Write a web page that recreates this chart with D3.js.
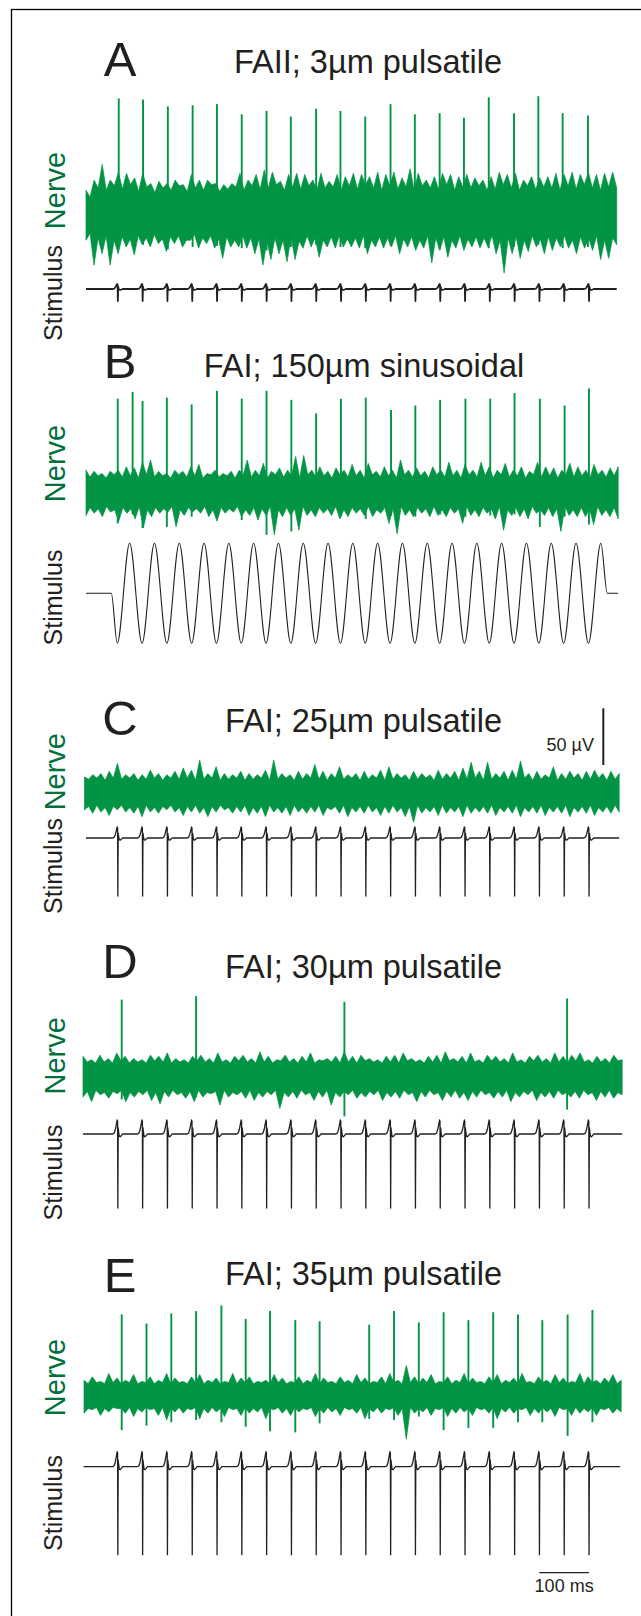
<!DOCTYPE html>
<html><head><meta charset="utf-8">
<script src="https://cdn.jsdelivr.net/npm/d3@7"></script>
<style>
body{margin:0;background:#fff}
svg{display:block}
text{font-family:"Liberation Sans",Arial,Helvetica,sans-serif;}
</style>
</head><body>
<svg id="c" width="641" height="1616"></svg>
<script>
// ---------------- DATA ----------------
const panelLetters = ["A","B","C","D","E"];
const panelTitles = ["FAII; 3µm pulsatile","FAI; 150µm sinusoidal","FAI; 25µm pulsatile","FAI; 30µm pulsatile","FAI; 35µm pulsatile"];
const traceLabels = ["Nerve","Stimulus"];
const scaleBarLabels = ["50 µV","100 ms"];
const scaleBarValues = [50, 100]; // µV, ms
const scaleBarTimeStart = 914;    // ms

// time span of each recording (ms)
const nerveSpans = [[0,1070],[0,1073],[-3,1075],[-6,1081],[-4,1079]];
const stimSpans  = [[0,1070],[0,1073],[0,1075],[-6,1081],[-5,1077]];

// nerve noise envelope (µV), upper and lower edges
const noiseUpA = [20,14,29,22,43,20,29,24,36,21,35,25,31,19,35,23,26,18,28,22,26,20,29,24,25,19,34,22,29,20,29,25,26,19,25,21,26,23,35,20,29,24,34,21,38,22,36,25,28,20,34,23,35,21,34,24,29,20,35,22,28,23,34,20,32,24,35,21,34,25,32,22,36,20,34,24,36,21,31,23,39,20,35,24,29,22,32,21,35,25,34,20,32,23,34,22,31,24,29,20,32,21,36,25,34,22,35,20,29,24,32,21,31,23,32,22,35,20,34,24,36,21,34,25,36,22,34,20,35,23,36,22];
const noiseLoA = [-24,-18,-46,-22,-36,-20,-46,-24,-36,-21,-30,-23,-37,-20,-28,-22,-30,-19,-27,-23,-34,-21,-27,-20,-30,-24,-24,-19,-31,-22,-27,-20,-31,-23,-40,-21,-30,-24,-30,-20,-31,-22,-36,-23,-46,-25,-41,-22,-36,-24,-43,-21,-41,-25,-31,-20,-30,-22,-39,-24,-30,-21,-31,-20,-30,-23,-30,-22,-31,-20,-36,-24,-30,-21,-31,-22,-30,-20,-36,-23,-30,-21,-33,-24,-31,-20,-44,-22,-33,-21,-39,-24,-31,-20,-33,-23,-30,-21,-31,-22,-30,-20,-36,-24,-53,-22,-36,-21,-40,-24,-34,-20,-30,-23,-36,-21,-33,-22,-30,-20,-31,-24,-36,-21,-31,-22,-33,-20,-41,-24,-40,-22,-28];
const noiseUpB = [19,13,18,14,16,12,18,15,19,13,22,14,21,12,26,15,28,13,18,14,16,12,19,15,18,13,22,14,24,12,16,15,19,13,16,14,18,12,19,15,28,13,19,14,25,12,18,15,21,13,19,14,31,12,32,15,19,13,22,14,18,12,21,15,19,13,24,14,19,12,25,15,18,13,22,14,19,12,28,15,19,13,21,14,18,12,22,15,19,13,26,14,19,12,24,15,19,13,26,14,22,12,19,15,25,13,19,14,22,12,18,15,26,13,22,14,21,12,19,15,25,13,22,14,19,12,24,15,19,13,21,14,22];
const noiseLoB = [-21,-14,-19,-15,-22,-13,-18,-16,-26,-14,-19,-15,-24,-13,-32,-16,-22,-14,-19,-15,-18,-13,-31,-16,-21,-14,-18,-15,-19,-13,-22,-16,-26,-14,-19,-15,-18,-13,-22,-16,-21,-14,-25,-15,-21,-13,-38,-16,-22,-14,-21,-15,-34,-13,-21,-16,-22,-14,-19,-15,-21,-13,-24,-16,-22,-14,-19,-15,-21,-13,-22,-16,-19,-14,-28,-15,-37,-13,-21,-16,-22,-14,-19,-15,-22,-13,-21,-16,-22,-14,-19,-15,-28,-13,-21,-16,-22,-14,-19,-15,-24,-13,-34,-16,-21,-14,-22,-15,-24,-13,-19,-16,-21,-14,-22,-15,-35,-13,-21,-16,-22,-14,-22,-15,-29,-13,-21,-16,-22,-14,-24];
const noiseUpC = [13,11,15,12,16,10,18,12,25,11,15,12,16,10,15,11,19,12,16,10,15,12,18,11,21,12,19,10,28,11,16,12,22,10,16,11,15,12,18,10,16,11,15,12,19,10,28,11,16,12,15,10,18,11,16,12,24,11,18,10,16,12,22,11,15,12,16,10,18,11,15,12,19,10,22,11,16,12,15,10,18,11,16,12,15,10,19,11,16,12,18,10,21,11,26,12,18,10,26,11,16,12,18,10,19,11,27,12,16,10,18,11,15,12,22,10,16,11,18,12,16,10,18,11,19,12,16,10,18,11,16];
const noiseLoC = [-16,-13,-19,-12,-18,-14,-21,-13,-16,-12,-18,-14,-19,-13,-22,-12,-18,-14,-19,-13,-16,-12,-18,-14,-21,-13,-18,-12,-19,-14,-22,-13,-18,-12,-16,-14,-19,-13,-18,-12,-21,-14,-19,-13,-22,-12,-18,-14,-19,-13,-21,-12,-18,-14,-19,-13,-18,-12,-21,-14,-16,-13,-19,-12,-22,-14,-18,-13,-19,-12,-18,-14,-21,-13,-19,-12,-18,-14,-22,-13,-27,-12,-19,-14,-18,-13,-21,-12,-19,-14,-18,-13,-22,-12,-19,-14,-18,-13,-19,-12,-21,-14,-18,-13,-19,-12,-22,-14,-18,-13,-19,-12,-21,-14,-18,-13,-19,-12,-22,-14,-18,-13,-19,-12,-21,-14,-18,-13,-19,-12,-18];
const noiseUpD = [18,13,15,12,19,13,16,12,21,14,18,12,16,13,15,12,19,14,18,13,21,12,16,13,15,12,18,14,19,13,16,12,21,13,15,12,18,14,19,13,16,12,22,13,18,12,15,14,19,13,16,12,18,13,21,12,15,14,16,13,18,12,22,13,18,12,19,14,16,13,15,12,18,13,19,12,21,14,16,13,15,12,18,13,19,12,22,14,16,13,18,12,21,13,15,12,19,14,18,13,16,12,21,13,15,12,18,14,19,13,16,12,21,13,18,12,19,14,21,13,15,12,18,13,16,12,19,14,15];
const noiseLoD = [-18,-13,-22,-12,-16,-14,-19,-13,-15,-12,-22,-14,-18,-13,-16,-12,-21,-14,-24,-13,-18,-12,-16,-14,-19,-13,-22,-12,-18,-14,-15,-13,-25,-12,-18,-14,-16,-13,-19,-12,-21,-14,-18,-13,-16,-12,-28,-14,-18,-13,-19,-12,-16,-14,-21,-13,-18,-12,-25,-14,-18,-13,-16,-12,-19,-14,-18,-13,-16,-12,-21,-14,-18,-13,-19,-12,-16,-14,-22,-13,-18,-12,-16,-14,-21,-13,-18,-12,-19,-14,-21,-13,-18,-12,-16,-14,-19,-13,-18,-12,-22,-14,-18,-13,-16,-12,-21,-14,-18,-13,-19,-12,-16,-14,-18,-13,-19,-12,-16,-14,-21,-13,-18,-12,-19,-14,-16];
const noiseUpE = [13,10,16,11,12,10,19,11,15,10,13,11,18,10,12,11,16,10,13,11,19,10,15,11,12,10,16,11,18,10,13,11,15,10,12,11,19,10,15,11,16,10,12,11,13,10,18,11,15,10,12,11,16,10,13,11,19,10,15,11,12,10,16,11,13,10,18,11,15,10,12,11,16,10,19,11,13,10,26,11,16,10,15,11,18,10,12,11,16,10,13,11,19,10,15,11,12,10,16,11,18,10,13,11,15,10,19,11,12,10,16,11,13,10,18,11,15,10,12,11,19,10,16,11,13,10,15,11,18,10,13];
const noiseLoE = [-16,-12,-13,-11,-18,-12,-15,-11,-12,-12,-16,-11,-19,-12,-15,-11,-13,-12,-18,-11,-22,-12,-15,-11,-16,-12,-13,-11,-21,-12,-16,-11,-15,-12,-19,-11,-13,-12,-18,-11,-16,-12,-15,-11,-21,-12,-13,-11,-16,-12,-18,-11,-15,-12,-13,-11,-19,-12,-16,-11,-15,-12,-18,-11,-13,-12,-16,-11,-21,-12,-15,-11,-16,-12,-13,-11,-18,-12,-39,-11,-16,-12,-15,-11,-18,-12,-13,-11,-19,-12,-16,-11,-15,-12,-18,-11,-13,-12,-16,-11,-21,-12,-15,-11,-16,-12,-13,-11,-18,-12,-16,-11,-15,-12,-19,-11,-13,-12,-18,-11,-16,-12,-15,-11,-18,-12,-13,-11,-16,-12,-15];

// action potentials: time (ms), peak (µV), trough (µV)
const spikeTimesA = [66,115,165,215,264,314,364,413,464,513,563,614,663,713,762,812,863,912,961,1012];
const spikeTopsA  = [101,100,94,95,96,87,90,85,92,90,85,96,87,88,84,102,88,103,88,86];
const spikeDipsA  = [-30,-28,-32,-30,-29,-31,-33,-30,-28,-30,-31,-29,-30,-32,-29,-31,-30,-28,-31,-30];
const spikeTimesB = [64,94,114,163,213,264,314,364,414,464,514,564,615,664,714,765,815,864,915,965,1014];
const spikeTopsB  = [82,88,80,83,77,89,82,89,81,69,82,83,72,76,81,82,82,87,82,76,91];
const spikeDipsB  = [-28,-20,-32,-31,-22,-20,-25,-38,-35,-20,-22,-24,-21,-22,-20,-22,-21,-20,-31,-22,-29];
const spikeTimesC = [];
const spikeTopsC  = [];
const spikeDipsC  = [];
const spikeTimesD = [72,222,521,970];
const spikeTopsD  = [68,71,66,69];
const spikeDipsD  = [-20,-18,-35,-29];
const spikeTimesE = [72,122,172,222,273,322,371,422,471,571,621,671,721,771,821,871,920,971,1021];
const spikeTopsE  = [71,63,72,74,79,67,74,66,65,62,74,64,73,66,73,71,66,71,75];
const spikeDipsE  = [-31,-27,-24,-22,-24,-28,-32,-33,-25,-21,-22,-19,-31,-29,-29,-24,-24,-36,-24];

// mechanical stimulus
const pulseTimes = [64,114,164,214,264,314,364,414,464,514,564,614,664,714,764,814,864,914,964,1014];
const pulseBump   = [5, 0, 11, 14, 15];      // overshoot before each pulse
const pulseTrough = [-12, 0, -58, -74, -88]; // pulse amplitude
const pulseShapeT      = [-10,-7,-5,-3,-1.2,-0.3,0.2,0.9,1.8,3,5,7.5,10];
const pulseShapeBump   = [0,0.08,0.3,0.65,1,0.9,0,0.45,0.15,-0.15,-0.2,-0.1,0];
const pulseShapeTrough = [0,0,0,0,0,0,1,0,0,0,0,0,0];
const sineTimes  = [0,51,63,88,113,138,163,188,213,238,263,288,313,338,363,388,413,438,463,488,513,538,563,588,613,638,663,688,713,738,763,788,813,838,863,888,913,938,963,988,1013,1038,1051,1073];
const sineValues = [0,0,-50,50,-50,50,-50,50,-50,50,-50,50,-50,50,-50,50,-50,50,-50,50,-50,50,-50,50,-50,50,-50,50,-50,50,-50,50,-50,50,-50,50,-50,50,-50,50,-50,50,0,0];

// ---------------- LAYOUT ----------------
const green = "#009444", labelGreen = "#00703c", ink = "#231f20";
const layout = [
 {letterY:76,   titleX:368,   titleY:73,   nerveY:213,    stimY:289,    nerveLabY:190.5,  stimLabY:293},
 {letterY:378,  titleX:364,   titleY:377,  nerveY:491.7,  stimY:593.3,  nerveLabY:463.5,  stimLabY:597.5},
 {letterY:735,  titleX:363.5, titleY:732,  nerveY:791.7,  stimY:838,    nerveLabY:771.7,  stimLabY:866},
 {letterY:978,  titleX:363.5, titleY:978,  nerveY:1076.7, stimY:1134,   nerveLabY:1055.8, stimLabY:1172.5},
 {letterY:1291.7,titleX:363.5,titleY:1285, nerveY:1395,   stimY:1466.7, nerveLabY:1377.5, stimLabY:1503}
];
const noiseUp = [noiseUpA,noiseUpB,noiseUpC,noiseUpD,noiseUpE];
const noiseLo = [noiseLoA,noiseLoB,noiseLoC,noiseLoD,noiseLoE];
const spikes = [[spikeTimesA,spikeTopsA,spikeDipsA],[spikeTimesB,spikeTopsB,spikeDipsB],[spikeTimesC,spikeTopsC,spikeDipsC],[spikeTimesD,spikeTopsD,spikeDipsD],[spikeTimesE,spikeTopsE,spikeDipsE]];

const svg = d3.select("#c");
svg.append("rect").attr("width",641).attr("height",1616).attr("fill","#fff");
svg.append("rect").attr("x",11.5).attr("y",9.5).attr("width",700).attr("height",1700)
  .attr("fill","none").attr("stroke","#000").attr("stroke-width",1.3);

const x  = d3.scaleLinear().domain([0,1073]).range([86,618.2]);
const yN = d3.scaleLinear().domain([-100,100]).range([113.4,-113.4]); // µV
const yS = d3.scaleLinear().domain([-100,100]).range([100,-100]);     // stimulus units

const lineN = d3.line().x(d=>x(d[0])).y(d=>yN(d[1]));
const lineS = d3.line().x(d=>x(d[0])).y(d=>yS(d[1]));
const lineSine = d3.line().x(d=>x(d[0])).y(d=>yS(d[1])).curve(d3.curveMonotoneX);

function spread(arr, span){
  const n = arr.length;
  return arr.map((v,i)=>[span[0] + i*(span[1]-span[0])/(n-1), v]);
}

layout.forEach((L,p)=>{
  const g = svg.append("g");
  // letter and title
  g.append("text").attr("x",120).attr("y",L.letterY).attr("text-anchor","middle")
    .attr("font-size",49).attr("fill",ink).text(panelLetters[p]);
  g.append("text").attr("x",L.titleX).attr("y",L.titleY).attr("text-anchor","middle")
    .attr("font-size",32.5).attr("fill",ink).text(panelTitles[p]);
  // side labels
  g.append("text").attr("transform",`translate(65,${L.nerveLabY}) rotate(-90)`)
    .attr("text-anchor","middle").attr("font-size",29).attr("fill",labelGreen).text(traceLabels[0]);
  g.append("text").attr("transform",`translate(62,${L.stimLabY}) rotate(-90)`)
    .attr("text-anchor","middle").attr("font-size",25).attr("fill",ink).text(traceLabels[1]);

  // nerve trace
  const gn = g.append("g").attr("transform",`translate(0,${L.nerveY})`);
  const up = spread(noiseUp[p], nerveSpans[p]);
  const lo = spread(noiseLo[p], nerveSpans[p]).reverse();
  gn.append("path").attr("d", lineN(up.concat(lo))+"Z")
    .attr("fill",green).attr("stroke",green).attr("stroke-width",0.7).attr("stroke-linejoin","round");
  const [st, stp, sdp] = spikes[p];
  st.forEach((t,i)=>{
    gn.append("path").attr("d", lineN([[t,sdp[i]],[t,stp[i]]]))
      .attr("stroke",green).attr("stroke-width",1.9).attr("fill","none");
  });

  // stimulus trace
  const gs = g.append("g").attr("transform",`translate(0,${L.stimY})`);
  if (p === 1){
    gs.append("path").attr("d", lineSine(sineTimes.map((t,i)=>[t,sineValues[i]])))
      .attr("fill","none").attr("stroke",ink).attr("stroke-width",1.1);
  } else {
    const pts = [[stimSpans[p][0],0]];
    pulseTimes.forEach(t0=>{
      pulseShapeT.forEach((dt,k)=>{
        pts.push([t0+dt, pulseBump[p]*pulseShapeBump[k] + pulseTrough[p]*pulseShapeTrough[k]]);
      });
    });
    pts.push([stimSpans[p][1],0]);
    gs.append("path").attr("d", lineS(pts))
      .attr("fill","none").attr("stroke",ink).attr("stroke-width", p===0 ? 1.8 : 1.3).attr("stroke-linejoin","round");
  }
});

// 50 µV scale bar (panel C)
const barX = 603.3, barBottom = 765;
svg.append("line").attr("x1",barX).attr("x2",barX).attr("y1",barBottom).attr("y2",barBottom-(yN(0)-yN(scaleBarValues[0])))
  .attr("stroke",ink).attr("stroke-width",2);
svg.append("text").attr("x",594).attr("y",751).attr("text-anchor","end").attr("font-size",18).attr("fill",ink).text(scaleBarLabels[0]);
// 100 ms scale bar
svg.append("line").attr("x1",x(scaleBarTimeStart)).attr("x2",x(scaleBarTimeStart+scaleBarValues[1]))
  .attr("y1",1572.7).attr("y2",1572.7).attr("stroke",ink).attr("stroke-width",1.3);
svg.append("text").attr("x",(x(scaleBarTimeStart)+x(scaleBarTimeStart+scaleBarValues[1]))/2).attr("y",1592)
  .attr("text-anchor","middle").attr("font-size",18).attr("fill",ink).text(scaleBarLabels[1]);
</script>
</body></html>
